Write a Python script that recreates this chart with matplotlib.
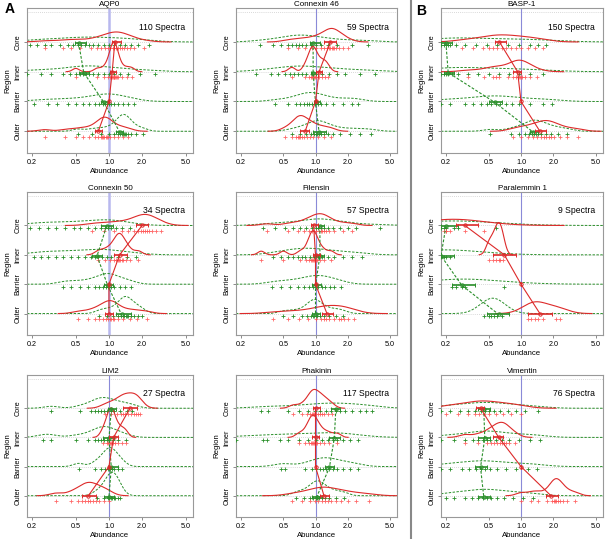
import numpy as np
import matplotlib
matplotlib.use('Agg')
import matplotlib.pyplot as plt

plt.rcParams['font.family'] = ['Liberation Sans', 'DejaVu Sans']

regions = ['Core', 'Inner', 'Barrier', 'Outer']
region_y = [4, 3, 2, 1]
x_ticks = [0.2, 0.5, 1.0, 2.0, 5.0]
x_tick_labels = ['0.2', '0.5', '1.0', '2.0', '5.0']

# ---- AQP0 ----
aqp0_red = [
    [0.26, 0.38, 0.45, 0.55, 0.68, 0.78, 0.85, 0.92, 0.98, 1.03, 1.08, 1.12, 1.16, 1.2, 1.25, 1.3, 1.38, 1.45, 1.55, 1.7, 2.1],
    [0.5, 0.78, 0.9, 0.98, 1.02, 1.05, 1.07, 1.08, 1.1, 1.11, 1.12, 1.14, 1.16, 1.18, 1.22, 1.3, 1.45, 1.62],
    [],
    [0.26, 0.4, 0.5, 0.58, 0.66, 0.74, 0.8, 0.84, 0.87, 0.89, 0.91, 0.93, 0.95, 0.98, 1.02, 1.1, 1.2, 1.35, 1.5],
]
aqp0_green = [
    [0.19, 0.22, 0.26, 0.3, 0.36, 0.42, 0.47, 0.52, 0.56, 0.6, 0.66, 0.72, 0.8, 0.9, 1.0, 1.12, 1.25, 1.4, 1.6, 1.85, 2.3],
    [0.18, 0.24, 0.3, 0.38, 0.44, 0.5, 0.55, 0.58, 0.62, 0.66, 0.72, 0.8, 0.9, 1.0, 1.1, 1.25, 1.5, 1.9, 2.6],
    [0.21, 0.28, 0.34, 0.42, 0.5, 0.58, 0.66, 0.74, 0.82, 0.88, 0.92, 0.96, 1.0, 1.05, 1.12, 1.22, 1.35, 1.5, 1.68],
    [0.52, 0.7, 0.85, 1.0, 1.12, 1.2, 1.26, 1.3, 1.34, 1.37, 1.4, 1.44, 1.5, 1.6, 1.75, 2.05],
]
aqp0_red_med = [1.13, 1.07, 1.0, 0.80]
aqp0_red_lo = [1.07, 1.02, 1.0, 0.75]
aqp0_red_hi = [1.28, 1.15, 1.0, 0.87]
aqp0_green_med = [0.53, 0.59, 0.90, 1.25]
aqp0_green_lo = [0.49, 0.53, 0.85, 1.15]
aqp0_green_hi = [0.62, 0.66, 0.98, 1.35]

# ---- Connexin 46 ----
cx46_red = [
    [0.55, 0.68, 0.8, 0.92, 1.02, 1.12, 1.2, 1.28, 1.34, 1.38, 1.42, 1.46, 1.5, 1.56, 1.65, 1.8, 2.0],
    [0.6, 0.8, 0.86, 0.9, 0.92, 0.94, 0.96, 0.98, 1.02, 1.08, 1.15, 1.22, 1.3],
    [],
    [0.52, 0.6, 0.65, 0.68, 0.7, 0.72, 0.75, 0.78, 0.83, 0.88, 0.95, 1.05, 1.2, 1.4],
]
cx46_green = [
    [0.3, 0.4, 0.48, 0.55, 0.6, 0.65, 0.7, 0.75, 0.82, 0.9, 1.0, 1.12, 1.3, 1.6, 2.2, 3.1],
    [0.28, 0.38, 0.45, 0.52, 0.58, 0.63, 0.68, 0.74, 0.82, 0.92, 1.02, 1.15, 1.35, 1.6, 1.9, 2.6, 3.6],
    [0.42, 0.55, 0.65, 0.72, 0.78, 0.83, 0.87, 0.92, 0.98, 1.05, 1.12, 1.25, 1.45, 1.8, 2.2, 2.5],
    [0.6, 0.72, 0.82, 0.9, 0.96, 1.0, 1.04, 1.08, 1.13, 1.2, 1.3, 1.45, 1.7, 2.1, 2.6, 3.3],
]
cx46_red_med = [1.38, 1.08, 1.0, 0.80]
cx46_red_lo = [1.2, 1.02, 1.0, 0.72]
cx46_red_hi = [1.55, 1.15, 1.0, 0.87]
cx46_green_med = [0.95, 0.95, 1.0, 1.08]
cx46_green_lo = [0.88, 0.9, 0.97, 0.95]
cx46_green_hi = [1.1, 1.02, 1.1, 1.25]

# ---- Connexin 50 ----
cx50_red = [
    [0.7, 0.9, 1.1, 1.3, 1.5, 1.7, 1.85, 1.95, 2.05, 2.12, 2.2, 2.3, 2.45, 2.65, 3.0],
    [0.8, 0.92, 1.02, 1.1, 1.15, 1.2, 1.23, 1.26, 1.3, 1.35, 1.42, 1.55, 1.85],
    [],
    [0.52, 0.65, 0.75, 0.82, 0.88, 0.94, 0.98, 1.02, 1.05, 1.08, 1.12, 1.2, 1.35, 1.55, 1.8, 2.2],
]
cx50_green = [
    [0.19, 0.23, 0.28, 0.33, 0.4, 0.48, 0.55, 0.65, 0.75, 0.85, 0.92, 0.98, 1.05, 1.15, 1.3, 1.55],
    [0.21, 0.24, 0.28, 0.33, 0.38, 0.45, 0.52, 0.6, 0.68, 0.75, 0.8, 0.86, 0.95, 1.05, 1.2, 1.45, 1.75],
    [0.38, 0.45, 0.55, 0.65, 0.74, 0.82, 0.88, 0.93, 0.97, 1.0, 1.05, 1.12, 1.25, 1.4, 1.57],
    [0.82, 0.95, 1.08, 1.2, 1.28, 1.34, 1.38, 1.42, 1.46, 1.5, 1.58, 1.7, 1.85, 2.0],
]
cx50_red_med = [2.0, 1.25, 1.0, 1.0]
cx50_red_lo = [1.75, 1.12, 1.0, 0.92]
cx50_red_hi = [2.25, 1.45, 1.0, 1.08]
cx50_green_med = [0.95, 0.78, 0.97, 1.3]
cx50_green_lo = [0.85, 0.7, 0.9, 1.15]
cx50_green_hi = [1.08, 0.87, 1.08, 1.6]

# ---- Filensin ----
fil_red = [
    [0.35, 0.55, 0.68, 0.78, 0.86, 0.92, 0.97, 1.02, 1.07, 1.12, 1.16, 1.2, 1.26, 1.35, 1.5, 1.8, 2.2],
    [0.31, 0.5, 0.72, 0.82, 0.87, 0.9, 0.92, 0.94, 0.96, 0.98, 1.0, 1.04, 1.1, 1.2, 1.4],
    [],
    [0.4, 0.55, 0.7, 0.85, 1.0, 1.12, 1.2, 1.26, 1.35, 1.5, 1.65, 1.75, 1.85, 2.0, 2.3],
]
fil_green = [
    [0.32, 0.42, 0.52, 0.62, 0.72, 0.82, 0.92, 1.0, 1.06, 1.12, 1.2, 1.3, 1.45, 1.7, 2.0, 2.4, 4.0],
    [0.4, 0.48, 0.55, 0.62, 0.68, 0.74, 0.8, 0.88, 0.96, 1.05, 1.15, 1.3, 1.5, 1.8, 2.2, 2.7],
    [0.39, 0.48, 0.58, 0.68, 0.78, 0.86, 0.94, 1.0, 1.06, 1.14, 1.24, 1.36, 1.5, 1.75],
    [0.5, 0.62, 0.74, 0.84, 0.9, 0.94, 0.97, 1.0, 1.04, 1.1, 1.2, 1.35, 1.55, 1.8],
]
fil_red_med = [0.96, 1.0, 1.0, 1.28]
fil_red_lo = [0.9, 0.95, 1.0, 1.15]
fil_red_hi = [1.05, 1.1, 1.0, 1.45]
fil_green_med = [1.1, 1.1, 1.0, 1.0]
fil_green_lo = [1.05, 1.02, 0.93, 0.92]
fil_green_hi = [1.2, 1.2, 1.12, 1.1]

# ---- LIM2 ----
lim2_red = [
    [0.92, 1.05, 1.18, 1.28, 1.35, 1.4, 1.48, 1.58, 1.68, 1.75, 1.82, 1.9],
    [0.88, 0.95, 0.99, 1.02, 1.04, 1.06, 1.09, 1.13, 1.2, 1.3, 1.42],
    [],
    [0.33, 0.45, 0.52, 0.57, 0.61, 0.64, 0.67, 0.71, 0.76, 0.82, 0.9, 1.0],
]
lim2_green = [
    [0.3, 0.55, 0.68, 0.75, 0.8, 0.85, 0.9, 0.96, 1.04, 1.12, 1.25, 1.45, 1.63],
    [0.25, 0.3, 0.5, 0.65, 0.74, 0.8, 0.85, 0.9, 0.95, 1.0, 1.08, 1.2, 1.42],
    [0.53, 0.75, 0.85, 0.92, 0.97, 1.0, 1.03, 1.07, 1.12, 1.2, 1.32],
    [0.78, 0.9, 0.97, 1.01, 1.04, 1.07, 1.1, 1.14, 1.2, 1.25],
]
lim2_red_med = [1.55, 1.1, 1.0, 0.65]
lim2_red_lo = [1.35, 1.0, 1.0, 0.57]
lim2_red_hi = [1.8, 1.2, 1.0, 0.77]
lim2_green_med = [1.05, 1.0, 1.05, 1.0]
lim2_green_lo = [0.97, 0.88, 0.97, 0.9]
lim2_green_hi = [1.15, 1.1, 1.2, 1.1]

# ---- Phakinin ----
phk_red = [
    [0.62, 0.75, 0.84, 0.89, 0.92, 0.95, 0.97, 1.0, 1.05, 1.1, 1.15, 1.2, 1.3, 1.42],
    [0.7, 0.8, 0.86, 0.9, 0.92, 0.94, 0.97, 1.0, 1.04, 1.1, 1.2, 1.35, 1.6],
    [],
    [0.6, 0.75, 0.88, 0.98, 1.06, 1.14, 1.22, 1.3, 1.4, 1.55, 1.75, 2.0, 2.4, 3.2],
]
phk_green = [
    [0.31, 0.36, 0.55, 0.7, 0.85, 0.98, 1.1, 1.25, 1.4, 1.55, 1.7, 1.9, 2.2, 2.6, 3.0, 3.4],
    [0.18, 0.32, 0.35, 0.46, 0.55, 0.7, 0.85, 1.0, 1.15, 1.3, 1.45, 1.6, 1.8, 2.1, 2.5],
    [0.48, 0.52, 0.8, 0.92, 1.02, 1.1, 1.18, 1.26, 1.35, 1.45, 1.6, 1.8, 2.1, 2.5],
    [0.66, 0.78, 0.88, 0.95, 1.0, 1.04, 1.08, 1.14, 1.22, 1.35, 1.55, 1.85],
]
phk_red_med = [1.0, 1.0, 1.0, 1.2]
phk_red_lo = [0.94, 0.93, 1.0, 1.1]
phk_red_hi = [1.1, 1.08, 1.0, 1.35]
phk_green_med = [1.55, 1.5, 1.35, 1.03]
phk_green_lo = [1.4, 1.35, 1.22, 0.93]
phk_green_hi = [1.7, 1.7, 1.5, 1.15]

# ---- BASP-1 ----
basp_red = [
    [0.28, 0.36, 0.44, 0.5, 0.55, 0.6, 0.66, 0.72, 0.8, 0.9, 1.0, 1.15, 1.35, 1.6],
    [0.32, 0.45, 0.55, 0.58, 0.62, 0.75, 0.85, 0.9, 0.93, 0.95, 0.97, 1.0, 1.03, 1.08, 1.2, 1.4],
    [],
    [0.85, 1.0, 1.15, 1.3, 1.42, 1.52, 1.62, 1.72, 1.82, 1.92, 2.05, 2.3, 2.7, 3.4],
]
basp_green = [
    [0.18, 0.19, 0.2, 0.21, 0.22, 0.25, 0.3, 0.38, 0.48, 0.6, 0.75, 0.95, 1.2, 1.45, 1.7],
    [0.18, 0.19, 0.2, 0.21, 0.23, 0.26, 0.32, 0.4, 0.5, 0.62, 0.78, 0.95, 1.2, 1.6],
    [0.18, 0.22, 0.3, 0.36, 0.42, 0.48, 0.53, 0.58, 0.64, 0.72, 0.82, 0.95, 1.2, 1.6, 1.95],
    [0.52, 0.8, 0.95, 1.08, 1.18, 1.26, 1.32, 1.38, 1.45, 1.55, 1.7, 1.9, 2.2, 2.7],
]
basp_red_med = [0.63, 0.93, 1.0, 1.5]
basp_red_lo = [0.57, 0.85, 1.0, 1.35]
basp_red_hi = [0.72, 1.0, 1.0, 1.7]
basp_green_med = [0.2, 0.21, 0.57, 1.3]
basp_green_lo = [0.18, 0.19, 0.5, 1.2]
basp_green_hi = [0.23, 0.24, 0.66, 1.45]

# ---- Paralemmin 1 ----
plm_red = [
    [0.19, 0.2, 0.2, 0.22, 0.3, 0.45],
    [0.5, 0.55, 0.59, 0.62, 0.64, 0.68],
    [],
    [1.15, 1.25, 1.35, 1.45, 1.6, 2.1, 2.3],
]
plm_green = [
    [0.18, 0.19, 0.2, 0.24, 0.26, 0.58],
    [0.17, 0.18, 0.19, 0.2, 0.22],
    [0.23, 0.25, 0.28, 0.3, 0.7],
    [0.45, 0.5, 0.53, 0.56, 0.6, 0.66],
]
plm_red_med = [0.3, 0.7, 1.0, 1.5]
plm_red_lo = [0.25, 0.55, 1.0, 1.15]
plm_red_hi = [0.4, 0.9, 1.0, 1.95]
plm_green_med = [0.2, 0.18, 0.28, 0.62]
plm_green_lo = [0.18, 0.17, 0.23, 0.48]
plm_green_hi = [0.26, 0.24, 0.37, 0.78]

# ---- Vimentin ----
vim_red = [
    [0.2, 0.26, 0.32, 0.37, 0.41, 0.45, 0.5, 0.58, 0.68, 0.8, 1.0],
    [0.3, 0.4, 0.48, 0.53, 0.56, 0.6, 0.64, 0.67, 0.69, 0.72, 0.78, 0.88],
    [],
    [1.0, 1.25, 1.45, 1.75, 1.95, 2.02, 2.08, 2.14, 2.2, 2.3, 2.45, 2.7, 3.2],
]
vim_green = [
    [0.18, 0.22, 0.27, 0.32, 0.37, 0.42, 0.46, 0.5, 0.56, 0.64, 0.75, 0.9, 1.1, 1.45],
    [0.18, 0.24, 0.3, 0.36, 0.4, 0.44, 0.48, 0.52, 0.58, 0.66, 0.78, 0.95, 1.2, 1.5],
    [0.18, 0.22, 0.28, 0.33, 0.38, 0.42, 0.46, 0.52, 0.6, 0.72, 0.9, 1.15, 1.4],
    [0.2, 0.24, 0.3, 0.35, 0.4, 0.44, 0.48, 0.53, 0.6, 0.7, 0.85, 1.05, 1.3],
]
vim_red_med = [0.42, 0.62, 1.0, 1.9]
vim_red_lo = [0.38, 0.55, 1.0, 1.7]
vim_red_hi = [0.45, 0.68, 1.0, 2.2]
vim_green_med = [0.45, 0.46, 0.42, 0.45]
vim_green_lo = [0.4, 0.4, 0.37, 0.4]
vim_green_hi = [0.52, 0.52, 0.48, 0.52]

# panel layout in pixels: (left, right) and (top, bottom)
cols = [(27, 193), (236, 397), (441, 603)]
rows = [(8, 153), (192, 335), (375, 517)]

panels = [
    ('AQP0', 110, aqp0_red, aqp0_green, aqp0_red_med, aqp0_red_lo, aqp0_red_hi,
     aqp0_green_med, aqp0_green_lo, aqp0_green_hi, 0, 0),
    ('Connexin 46', 59, cx46_red, cx46_green, cx46_red_med, cx46_red_lo, cx46_red_hi,
     cx46_green_med, cx46_green_lo, cx46_green_hi, 0, 1),
    ('BASP-1', 150, basp_red, basp_green, basp_red_med, basp_red_lo, basp_red_hi,
     basp_green_med, basp_green_lo, basp_green_hi, 0, 2),
    ('Connexin 50', 34, cx50_red, cx50_green, cx50_red_med, cx50_red_lo, cx50_red_hi,
     cx50_green_med, cx50_green_lo, cx50_green_hi, 1, 0),
    ('Filensin', 57, fil_red, fil_green, fil_red_med, fil_red_lo, fil_red_hi,
     fil_green_med, fil_green_lo, fil_green_hi, 1, 1),
    ('Paralemmin 1', 9, plm_red, plm_green, plm_red_med, plm_red_lo, plm_red_hi,
     plm_green_med, plm_green_lo, plm_green_hi, 1, 2),
    ('LIM2', 27, lim2_red, lim2_green, lim2_red_med, lim2_red_lo, lim2_red_hi,
     lim2_green_med, lim2_green_lo, lim2_green_hi, 2, 0),
    ('Phakinin', 117, phk_red, phk_green, phk_red_med, phk_red_lo, phk_red_hi,
     phk_green_med, phk_green_lo, phk_green_hi, 2, 1),
    ('Vimentin', 76, vim_red, vim_green, vim_red_med, vim_red_lo, vim_red_hi,
     vim_green_med, vim_green_lo, vim_green_hi, 2, 2),
]

# smallest kde bandwidth (log10 units) per region, where the default is too narrow
red_bw_floor = {'Paralemmin 1': [0.25, 0.03, 0.03, 0.1]}
green_bw_floor = {'BASP-1': [0.25, 0.25, 0.05, 0.05],
                  'Paralemmin 1': [0.35, 0.35, 0.3, 0.1]}

RED = '#dd2a2a'
RED_PT = '#ff5050'
GREEN = '#2a8f2a'
XMIN, XMAX = 0.18, 5.8
DENS_SCALE = 0.15

W, H = 605, 539
fig = plt.figure(figsize=(W / 100, H / 100), dpi=100)


def kde(vals, grid, floor):
    lv = np.log10(vals)
    n = len(lv)
    sd = lv.std(ddof=1)
    q75, q25 = np.percentile(lv, [75, 25])
    spread = min(sd, (q75 - q25) / 1.34) if q75 > q25 else sd
    bw = max(0.9 * spread * n ** -0.2, floor)
    d = np.exp(-0.5 * ((grid[:, None] - lv[None, :]) / bw) ** 2).sum(1)
    return d / (n * bw * np.sqrt(2 * np.pi)), bw, lv.min(), lv.max()


for (title, nspec, red, green, rmed, rlo, rhi, gmed, glo, ghi, r, c) in panels:
    (x0, x1), (y0, y1) = cols[c], rows[r]
    ax = fig.add_axes([x0 / W, 1 - y1 / H, (x1 - x0) / W, (y1 - y0) / H])
    ax.set_xscale('log')
    ax.set_xlim(XMIN, XMAX)
    ax.set_ylim(0.27, 5.14)

    for yy in [1, 2, 3, 4, 5]:
        ax.axhline(yy, color='#cccccc', lw=0.6, ls=(0, (1, 1.5)), zorder=0)
    thick = title in ('AQP0', 'Connexin 50')
    ax.axvline(1.0, color='#b8b8ee' if thick else '#8a8ad8', lw=1.8 if thick else 0.8, zorder=1)

    grid = np.linspace(np.log10(XMIN), np.log10(XMAX), 400)
    rfl = red_bw_floor.get(title, [0.03] * 4)
    gfl = green_bw_floor.get(title, [0.05] * 4)
    for i, base in enumerate(region_y):
        # green series
        gv = green[i]
        if len(gv) > 1:
            d, bw, lo, hi = kde(gv, grid, gfl[i])
            ax.plot(10 ** grid, base + DENS_SCALE * d, color=GREEN, lw=0.7,
                    ls=(0, (2.5, 1.5)), zorder=2)
        ax.plot(gv, [base - 0.09] * len(gv), ls='none', marker='+', ms=2.2,
                mew=0.6, color=GREEN, zorder=3)
        # red series
        rv = red[i]
        if len(rv) > 1:
            d, bw, lo, hi = kde(rv, grid, rfl[i])
            m = (grid >= lo - 3 * bw) & (grid <= hi + 3 * bw)
            ax.plot(10 ** grid[m], base + DENS_SCALE * d[m], color=RED, lw=0.8, zorder=4)
        ax.plot(rv, [base - 0.19] * len(rv), ls='none', marker='+', ms=2.2,
                mew=0.6, color=RED_PT, alpha=0.85, zorder=3)

    # medians with intervals and connecting lines
    ax.plot(gmed, [y - 0.03 for y in region_y], color=GREEN, lw=0.8,
            ls=(0, (2.5, 1.5)), zorder=5)
    ax.errorbar(gmed, [y - 0.03 for y in region_y],
                xerr=[np.subtract(gmed, glo), np.subtract(ghi, gmed)],
                fmt='o', ms=2.4, mfc='none', mew=0.7, color=GREEN, elinewidth=1.2,
                capsize=1.6, capthick=0.8, zorder=6)
    ax.plot(rmed, region_y, color=RED, lw=0.8, zorder=7)
    ax.errorbar(rmed, region_y,
                xerr=[np.subtract(rmed, rlo), np.subtract(rhi, rmed)],
                fmt='o', ms=2.4, mfc='none', mew=0.7, color=RED, elinewidth=1.2,
                capsize=1.6, capthick=0.8, zorder=8)

    ax.text(4.9, 4.5, f'{nspec} Spectra', ha='right', va='center', fontsize=6.2)

    ax.set_xticks(x_ticks)
    ax.set_xticklabels(x_tick_labels)
    ax.xaxis.set_minor_locator(matplotlib.ticker.NullLocator())
    ax.set_yticks(region_y)
    ax.set_yticklabels(regions, rotation=90, va='center')
    ax.tick_params(labelsize=5.2, length=2.5, width=0.6, color='#777777', pad=1.5)
    ax.set_xlabel('Abundance', fontsize=5.6, labelpad=1.5)
    ax.set_ylabel('Region', fontsize=5.6, labelpad=2)
    ax.set_title(title, fontsize=5.8, pad=1.5)
    for s in ax.spines.values():
        s.set_color('#999999')
        s.set_linewidth(0.8)

fig.text(5 / W, 1 - 9 / H, 'A', fontsize=10, fontweight='bold', va='center', ha='left')
fig.text(416 / W, 1 - 11 / H, 'B', fontsize=10, fontweight='bold', va='center', ha='left')
fig.add_artist(matplotlib.lines.Line2D([411 / W, 411 / W], [0, 1], color='#888888', lw=1.5))

fig.savefig('out.png', dpi=100)
